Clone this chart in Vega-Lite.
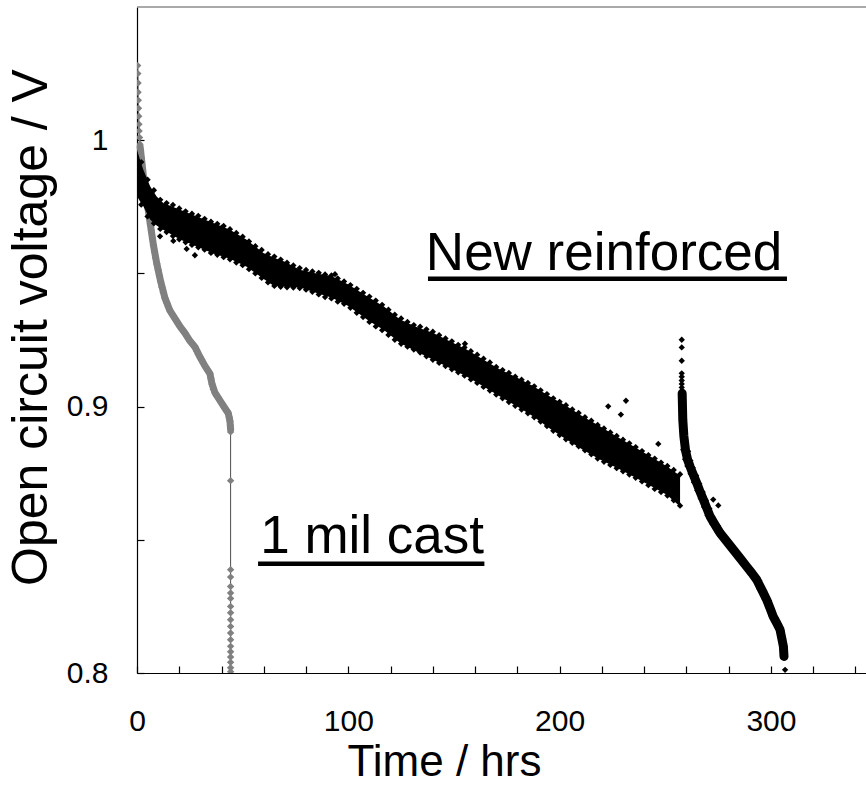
{
"$schema": "https://vega.github.io/schema/vega-lite/v6.json",
"width": 729, "height": 666,
"autosize": "none",
"padding": {"left": 137, "top": 7, "right": 0, "bottom": 112},
"background": "white",
"config": {"font": "Liberation Sans", "view": {"stroke": null},
  "axis": {"grid": false, "domainColor": "#000", "tickColor": "#000", "labelColor": "#000", "titleColor": "#000", "labelFont": "Liberation Sans", "titleFont": "Liberation Sans", "labelFontSize": 30, "titleFontWeight": "normal", "tickSize": -7, "domainWidth": 1.2, "tickWidth": 1.2, "labelFlush": false, "labelOverlap": false}},
"datasets": {
"frame": [{"t": 0, "t2": 345, "v": 1.05}],
"greyband": [{"t":1.5,"v":0.9975},{"t":3.1,"v":0.986},{"t":4.8,"v":0.9765},{"t":6.3,"v":0.9685},{"t":7.8,"v":0.9605},{"t":9.4,"v":0.9535},{"t":11.2,"v":0.947},{"t":13.2,"v":0.9408},{"t":15.6,"v":0.936},{"t":18.0,"v":0.933},{"t":20.4,"v":0.93},{"t":22.7,"v":0.9276},{"t":25.1,"v":0.9246},{"t":27.4,"v":0.9224},{"t":29.8,"v":0.9186},{"t":32.2,"v":0.9152},{"t":34.5,"v":0.9124},{"t":35.5,"v":0.9085},{"t":36.9,"v":0.9052},{"t":39.3,"v":0.9022},{"t":41.7,"v":0.8993},{"t":43.2,"v":0.8975},{"t":44.0,"v":0.8945},{"t":44.3,"v":0.8915}],
"grey": [{"t":0.3,"v":1.028},{"t":0.4,"v":1.025},{"t":0.5,"v":1.0215},{"t":0.5,"v":1.018},{"t":0.6,"v":1.015},{"t":0.7,"v":1.012},{"t":0.8,"v":1.009},{"t":0.9,"v":1.006},{"t":1.0,"v":1.0035},{"t":1.2,"v":1.001},{"t":1.4,"v":0.9985},{"t":1.7,"v":0.996},{"t":2.0,"v":0.9935},{"t":2.3,"v":0.991},{"t":2.7,"v":0.9885},{"t":3.1,"v":0.986},{"t":3.5,"v":0.9838},{"t":3.9,"v":0.9815},{"t":4.3,"v":0.9792},{"t":4.8,"v":0.9765},{"t":5.3,"v":0.974},{"t":5.8,"v":0.9712},{"t":6.3,"v":0.9685},{"t":6.8,"v":0.966},{"t":7.3,"v":0.9632},{"t":7.8,"v":0.9605},{"t":8.3,"v":0.958},{"t":8.8,"v":0.9558},{"t":9.4,"v":0.9535},{"t":10.0,"v":0.9514},{"t":10.6,"v":0.9492},{"t":11.2,"v":0.947},{"t":11.8,"v":0.9448},{"t":12.4,"v":0.9428},{"t":13.2,"v":0.9408},{"t":14.0,"v":0.939},{"t":14.8,"v":0.9374},{"t":15.6,"v":0.936},{"t":16.4,"v":0.935},{"t":17.2,"v":0.934},{"t":18.0,"v":0.933},{"t":18.8,"v":0.932},{"t":19.6,"v":0.931},{"t":20.4,"v":0.93},{"t":21.2,"v":0.9292},{"t":21.9,"v":0.9286},{"t":22.7,"v":0.9276},{"t":23.5,"v":0.9265},{"t":24.3,"v":0.9255},{"t":25.1,"v":0.9246},{"t":25.9,"v":0.924},{"t":26.7,"v":0.9232},{"t":27.4,"v":0.9224},{"t":28.2,"v":0.921},{"t":29.0,"v":0.9196},{"t":29.8,"v":0.9186},{"t":30.6,"v":0.9176},{"t":31.4,"v":0.9164},{"t":32.2,"v":0.9152},{"t":33.0,"v":0.9142},{"t":33.7,"v":0.9134},{"t":34.5,"v":0.9124},{"t":35.0,"v":0.9105},{"t":35.5,"v":0.9085},{"t":36.1,"v":0.9065},{"t":36.9,"v":0.9052},{"t":37.7,"v":0.904},{"t":38.5,"v":0.9032},{"t":39.3,"v":0.9022},{"t":40.1,"v":0.9012},{"t":40.9,"v":0.9002},{"t":41.7,"v":0.8993},{"t":42.5,"v":0.8985},{"t":43.2,"v":0.8975},{"t":43.7,"v":0.896},{"t":44.0,"v":0.8945},{"t":44.2,"v":0.893},{"t":44.3,"v":0.8915},{"t":44.3,"v":0.8905},{"t":44.3,"v":0.8722},{"t":44.3,"v":0.8388},{"t":44.3,"v":0.836},{"t":44.3,"v":0.8325},{"t":44.3,"v":0.83},{"t":44.3,"v":0.828},{"t":44.3,"v":0.825},{"t":44.3,"v":0.8226},{"t":44.3,"v":0.82},{"t":44.3,"v":0.8175},{"t":44.3,"v":0.815},{"t":44.3,"v":0.8125},{"t":44.3,"v":0.81},{"t":44.3,"v":0.808},{"t":44.3,"v":0.806},{"t":44.3,"v":0.804},{"t":44.3,"v":0.802},{"t":44.3,"v":0.8005}],
"band": [{"t":0,"v":0.979,"v2":0.9964},{"t":1.5,"v":0.977,"v2":0.9925},{"t":3,"v":0.9752,"v2":0.9889},{"t":6.2,"v":0.9702,"v2":0.9827},{"t":9.3,"v":0.968,"v2":0.9789},{"t":12.4,"v":0.9664,"v2":0.9764},{"t":20.4,"v":0.9627,"v2":0.9739},{"t":28.3,"v":0.9601,"v2":0.9714},{"t":36.1,"v":0.9575,"v2":0.9689},{"t":44,"v":0.9555,"v2":0.9664},{"t":51.9,"v":0.9525,"v2":0.9626},{"t":59.8,"v":0.948,"v2":0.9577},{"t":64.5,"v":0.9455,"v2":0.956},{"t":70,"v":0.945,"v2":0.9544},{"t":77,"v":0.9448,"v2":0.9514},{"t":85,"v":0.9426,"v2":0.95},{"t":92,"v":0.941,"v2":0.949},{"t":100,"v":0.9378,"v2":0.9458},{"t":110,"v":0.932,"v2":0.9409},{"t":117,"v":0.9287,"v2":0.9375},{"t":124.5,"v":0.9239,"v2":0.9327},{"t":132,"v":0.9208,"v2":0.93},{"t":140.2,"v":0.9176,"v2":0.9276},{"t":148,"v":0.9145,"v2":0.9245},{"t":156,"v":0.9113,"v2":0.9214},{"t":164,"v":0.9075,"v2":0.9176},{"t":171.8,"v":0.9038,"v2":0.9139},{"t":180,"v":0.9,"v2":0.9108},{"t":187.6,"v":0.8963,"v2":0.9076},{"t":195,"v":0.892,"v2":0.904},{"t":203.4,"v":0.8876,"v2":0.9001},{"t":211,"v":0.8838,"v2":0.8963},{"t":219.1,"v":0.8801,"v2":0.8926},{"t":227,"v":0.877,"v2":0.8888},{"t":234.9,"v":0.8738,"v2":0.8851},{"t":243,"v":0.8703,"v2":0.8813},{"t":250.7,"v":0.8669,"v2":0.8776},{"t":257,"v":0.8625,"v2":0.874}],
"seg2": [{"t":258.0,"v":0.905},{"t":258.3,"v":0.895},{"t":258.8,"v":0.889},{"t":259.6,"v":0.8835},{"t":260.6,"v":0.88},{"t":261.8,"v":0.8774},{"t":263.3,"v":0.8744},{"t":264.9,"v":0.8713},{"t":266.4,"v":0.8682},{"t":268.0,"v":0.8651},{"t":269.6,"v":0.862},{"t":271.2,"v":0.8588},{"t":273.5,"v":0.8557},{"t":275.9,"v":0.8526},{"t":279.0,"v":0.8495},{"t":282.2,"v":0.8463},{"t":285.3,"v":0.8432},{"t":288.5,"v":0.84},{"t":291.0,"v":0.8375},{"t":293.3,"v":0.835},{"t":295.7,"v":0.8312},{"t":298.0,"v":0.8275},{"t":299.6,"v":0.8243},{"t":301.1,"v":0.8212},{"t":302.7,"v":0.8188},{"t":304.3,"v":0.8163},{"t":305.1,"v":0.8132},{"t":305.9,"v":0.81},{"t":306.2,"v":0.8062}],
"black": [
{"t":2,"v":0.9918},{"t":5,"v":0.9852},{"t":8,"v":0.9812},{"t":11,"v":0.9776},{"t":14,"v":0.9764},{"t":17,"v":0.9757},{"t":20,"v":0.9744},{"t":23,"v":0.9733},{"t":26,"v":0.9724},{"t":29,"v":0.9716},{"t":32,"v":0.9705},{"t":35,"v":0.9694},{"t":38,"v":0.9686},{"t":41,"v":0.9678},{"t":44,"v":0.9666},{"t":47,"v":0.9652},{"t":50,"v":0.9638},{"t":53,"v":0.962},{"t":56,"v":0.9602},{"t":59,"v":0.9588},{"t":62,"v":0.9572},{"t":65,"v":0.9563},{"t":68,"v":0.9552},{"t":71,"v":0.954},{"t":74,"v":0.953},{"t":77,"v":0.952},{"t":80,"v":0.9513},{"t":83,"v":0.9507},{"t":86,"v":0.9502},{"t":89,"v":0.9496},{"t":92,"v":0.9492},{"t":95,"v":0.9481},{"t":98,"v":0.947},{"t":101,"v":0.9456},{"t":104,"v":0.9442},{"t":107,"v":0.9427},{"t":110,"v":0.9413},{"t":113,"v":0.9398},{"t":116,"v":0.9382},{"t":119,"v":0.9364},{"t":122,"v":0.9345},{"t":125,"v":0.9331},{"t":128,"v":0.9318},{"t":131,"v":0.9306},{"t":134,"v":0.93},{"t":137,"v":0.929},{"t":140,"v":0.9281},{"t":143,"v":0.9268},{"t":146,"v":0.9256},{"t":149,"v":0.9245},{"t":152,"v":0.9232},{"t":155,"v":0.9222},{"t":158,"v":0.9208},{"t":161,"v":0.9195},{"t":164,"v":0.918},{"t":167,"v":0.9166},{"t":170,"v":0.9149},{"t":173,"v":0.9137},{"t":176,"v":0.9126},{"t":179,"v":0.9112},{"t":182,"v":0.9101},{"t":185,"v":0.9089},{"t":188,"v":0.9076},{"t":191,"v":0.9061},{"t":194,"v":0.9047},{"t":197,"v":0.9031},{"t":200,"v":0.9018},{"t":203,"v":0.9005},{"t":206,"v":0.8989},{"t":209,"v":0.8976},{"t":212,"v":0.896},{"t":215,"v":0.8947},{"t":218,"v":0.8931},{"t":221,"v":0.8918},{"t":224,"v":0.8903},{"t":227,"v":0.889},{"t":230,"v":0.8876},{"t":233,"v":0.8862},{"t":236,"v":0.8848},{"t":239,"v":0.8833},{"t":242,"v":0.8818},{"t":245,"v":0.8805},{"t":248,"v":0.879},{"t":251,"v":0.8777},{"t":254,"v":0.8762},{"t":257,"v":0.8746},
{"t":2,"v":0.9758},{"t":5,"v":0.9714},{"t":8,"v":0.9688},{"t":11,"v":0.9667},{"t":14,"v":0.9655},{"t":17,"v":0.964},{"t":20,"v":0.9628},{"t":23,"v":0.9617},{"t":26,"v":0.9607},{"t":29,"v":0.9598},{"t":32,"v":0.9589},{"t":35,"v":0.9577},{"t":38,"v":0.957},{"t":41,"v":0.9561},{"t":44,"v":0.9553},{"t":47,"v":0.9541},{"t":50,"v":0.9531},{"t":53,"v":0.9516},{"t":56,"v":0.95},{"t":59,"v":0.9483},{"t":62,"v":0.9466},{"t":65,"v":0.9453},{"t":68,"v":0.945},{"t":71,"v":0.9448},{"t":74,"v":0.9447},{"t":77,"v":0.9445},{"t":80,"v":0.9439},{"t":83,"v":0.9431},{"t":86,"v":0.9421},{"t":89,"v":0.9411},{"t":92,"v":0.9406},{"t":95,"v":0.9394},{"t":98,"v":0.9386},{"t":101,"v":0.9371},{"t":104,"v":0.9352},{"t":107,"v":0.9336},{"t":110,"v":0.9318},{"t":113,"v":0.9301},{"t":116,"v":0.9287},{"t":119,"v":0.9269},{"t":122,"v":0.9251},{"t":125,"v":0.9236},{"t":128,"v":0.9225},{"t":131,"v":0.9214},{"t":134,"v":0.9203},{"t":137,"v":0.9189},{"t":140,"v":0.9176},{"t":143,"v":0.9164},{"t":146,"v":0.9152},{"t":149,"v":0.914},{"t":152,"v":0.9129},{"t":155,"v":0.9116},{"t":158,"v":0.9102},{"t":161,"v":0.9089},{"t":164,"v":0.9074},{"t":167,"v":0.906},{"t":170,"v":0.9045},{"t":173,"v":0.9031},{"t":176,"v":0.9017},{"t":179,"v":0.9003},{"t":182,"v":0.8989},{"t":185,"v":0.8975},{"t":188,"v":0.896},{"t":191,"v":0.8944},{"t":194,"v":0.8927},{"t":197,"v":0.8909},{"t":200,"v":0.8893},{"t":203,"v":0.8877},{"t":206,"v":0.8864},{"t":209,"v":0.8851},{"t":212,"v":0.8836},{"t":215,"v":0.8821},{"t":218,"v":0.8805},{"t":221,"v":0.8793},{"t":224,"v":0.8781},{"t":227,"v":0.8769},{"t":230,"v":0.8757},{"t":233,"v":0.8745},{"t":236,"v":0.8733},{"t":239,"v":0.8719},{"t":242,"v":0.8705},{"t":245,"v":0.8691},{"t":248,"v":0.8679},{"t":251,"v":0.8666},{"t":254,"v":0.8648},{"t":257,"v":0.8628},
{"t":10.9,"v":0.9639},{"t":17.2,"v":0.9622},{"t":23.5,"v":0.9592},{"t":27.4,"v":0.9568},{"t":40.1,"v":0.9672},{"t":93.7,"v":0.9497},{"t":155.2,"v":0.9236},{"t":223,"v":0.9001},{"t":231.4,"v":0.9022},{"t":229,"v":0.897},{"t":246.7,"v":0.886},{"t":272.7,"v":0.8651},{"t":275.1,"v":0.8629},
{"t":257.8,"v":0.9251},{"t":257.8,"v":0.9222},{"t":257.8,"v":0.9172},{"t":257.8,"v":0.9125},{"t":257.8,"v":0.9112},{"t":257.8,"v":0.9098},{"t":257.8,"v":0.9085},{"t":257.8,"v":0.9072},{"t":257.8,"v":0.9058},{"t":257.8,"v":0.9045},{"t":257.9,"v":0.9032},{"t":257.9,"v":0.9018},{"t":257.9,"v":0.9005},{"t":258.0,"v":0.8992},{"t":258.0,"v":0.898},{"t":258.0,"v":0.8968},{"t":258.1,"v":0.8955},{"t":258.1,"v":0.8942},{"t":258.2,"v":0.893},{"t":258.3,"v":0.8918},{"t":258.4,"v":0.8906},{"t":258.5,"v":0.8894},{"t":258.7,"v":0.8882},{"t":258.9,"v":0.887},
{"t":258.5,"v":0.8838},{"t":260.8,"v":0.8832},{"t":259.4,"v":0.8802},{"t":261.9,"v":0.8797},{"t":260.5,"v":0.8777},{"t":263.0,"v":0.877},{"t":262.0,"v":0.8748},{"t":264.6,"v":0.8741},{"t":263.6,"v":0.8716},{"t":266.1,"v":0.871},{"t":265.2,"v":0.8685},{"t":267.7,"v":0.8679},{"t":266.8,"v":0.8655},{"t":269.2,"v":0.8648},{"t":268.4,"v":0.8623},{"t":270.9,"v":0.8617},{"t":270.0,"v":0.8592},{"t":272.4,"v":0.8585},{"t":272.2,"v":0.856},{"t":274.8,"v":0.8553},{"t":274.6,"v":0.853},{"t":277.1,"v":0.8523},{"t":276.2,"v":0.8512},{"t":278.8,"v":0.8506},{"t":277.8,"v":0.8498},{"t":280.3,"v":0.8492},{"t":279.3,"v":0.8482},{"t":281.8,"v":0.8476},{"t":281.0,"v":0.8467},{"t":283.5,"v":0.846},{"t":282.6,"v":0.845},{"t":285.0,"v":0.8444},{"t":284.1,"v":0.8436},{"t":286.6,"v":0.8428},{"t":285.7,"v":0.842},{"t":288.1,"v":0.8413},{"t":287.3,"v":0.8404},{"t":289.7,"v":0.8396},{"t":289.8,"v":0.8379},{"t":292.2,"v":0.8371},{"t":292.1,"v":0.8354},{"t":294.5,"v":0.8346},{"t":294.5,"v":0.8316},{"t":296.9,"v":0.8308},{"t":296.9,"v":0.8279},{"t":299.1,"v":0.8271},{"t":298.6,"v":0.8247},{"t":300.6,"v":0.8239},{"t":300.1,"v":0.8216},{"t":302.1,"v":0.8208},{"t":301.8,"v":0.8192},{"t":303.6,"v":0.8184},{"t":303.5,"v":0.8166},{"t":305.1,"v":0.816},{"t":304.4,"v":0.8134},{"t":305.8,"v":0.813},{"t":305.3,"v":0.8102},{"t":306.5,"v":0.8098},{"t":305.7,"v":0.8064},{"t":306.7,"v":0.806},{"t":306.7,"v":0.8012}],
"underline": [{"t": 137.7, "t2": 307.6, "v": 0.948}, {"t": 57.3, "t2": 164.4, "v": 0.841}],
"labels": [{"t": 136.7, "v": 0.9514, "label": "New reinforced"}, {"t": 58.3, "v": 0.8452, "label": "1 mil cast"}]
},
"encoding": {
  "x": {"field": "t", "type": "quantitative", "scale": {"domain": [0, 345], "nice": false, "zero": false},
    "axis": {"values": [0,20,40,60,80,100,120,140,160,180,200,220,240,260,280,300,320,340], "labelExpr": "datum.value % 100 === 0 ? datum.label : ''", "labelPadding": 40, "title": "Time / hrs", "titleFontSize": 44, "titleX": 307, "titleY": 102, "titleBaseline": "alphabetic", "titleAlign": "center"}},
  "y": {"field": "v", "type": "quantitative", "scale": {"domain": [0.8, 1.05], "nice": false, "zero": false},
    "axis": {"values": [0.8, 0.85, 0.9, 0.95, 1.0], "labelExpr": "datum.value === 0.8 ? '0.8' : datum.value === 0.9 ? '0.9' : datum.value === 1 ? '1' : ''", "labelPadding": 36, "title": "Open circuit voltage / V", "titleFontSize": 50, "titleX": -91, "titleY": 320, "titleAngle": -90, "titleBaseline": "alphabetic", "titleAlign": "center"}}
},
"layer": [
  {"data": {"name": "frame"}, "mark": {"type": "rule", "color": "#8c8c8c", "strokeWidth": 1.5}, "encoding": {"x2": {"field": "t2"}}},
  {"data": {"name": "grey"}, "mark": {"type": "line", "color": "#4d4d4d", "strokeWidth": 1, "clip": true}, "encoding": {"order": {"field": "v", "sort": "descending"}}},
  {"data": {"name": "greyband"}, "mark": {"type": "line", "color": "#808080", "strokeWidth": 7, "strokeCap": "round", "strokeJoin": "round"}, "encoding": {"order": {"field": "v", "sort": "descending"}}},
  {"data": {"name": "grey"}, "mark": {"type": "point", "shape": "diamond", "filled": true, "size": 55, "color": "#808080", "opacity": 1, "clip": true}},
  {"data": {"name": "band"}, "mark": {"type": "area", "color": "#000", "opacity": 1}, "encoding": {"y2": {"field": "v2"}}},
  {"data": {"name": "seg2"}, "mark": {"type": "line", "color": "#000", "strokeWidth": 9, "strokeCap": "round", "strokeJoin": "round"}},
  {"data": {"name": "black"}, "mark": {"type": "point", "shape": "diamond", "filled": true, "size": 40, "color": "#000", "opacity": 1, "clip": true}},
  {"data": {"name": "underline"}, "mark": {"type": "rule", "color": "#000", "strokeWidth": 4.5}, "encoding": {"x2": {"field": "t2"}}},
  {"data": {"name": "labels"}, "mark": {"type": "text", "align": "left", "baseline": "alphabetic", "fontSize": 53, "color": "#000", "font": "Liberation Sans"}, "encoding": {"text": {"field": "label"}}}
]
}
